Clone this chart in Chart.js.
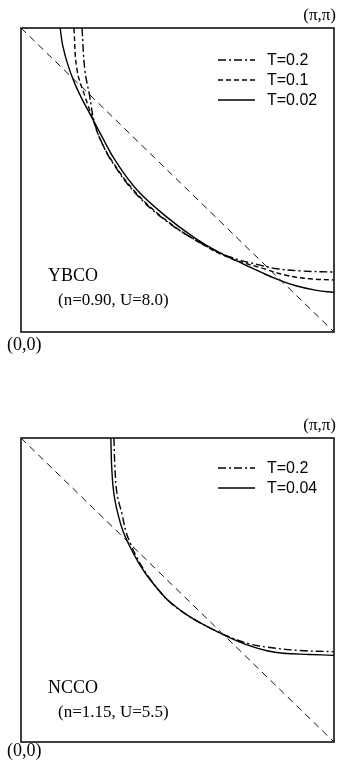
<!DOCTYPE html>
<html>
<head>
<meta charset="utf-8">
<script src="https://cdn.jsdelivr.net/npm/chart.js@4/dist/chart.umd.min.js"></script>
<style>
  body { margin: 0; background: #fff; }
  .panel { position: absolute; left: 0; width: 339px; }
</style>
</head>
<body>
<div class="panel" style="top:0;height:410px"><canvas id="ybco"></canvas></div>
<div class="panel" style="top:410px;height:357px"><canvas id="ncco"></canvas></div>
<script>
/*=================================
      data (k in units of pi)
=================================*/
// YBCO, n=0.90, U=8.0
const ybcoKx02 = [0.195, 0.204, 0.220, 0.232, 0.255, 0.295, 0.367, 0.463, 0.572, 0.668, 0.764, 0.818, 0.891, 1.0];
const ybcoKy02 = [1.0, 0.862, 0.773, 0.700, 0.630, 0.553, 0.455, 0.366, 0.294, 0.247, 0.220, 0.208, 0.201, 0.197];
const ybcoKx01 = [0.169, 0.179, 0.205, 0.228, 0.253, 0.295, 0.367, 0.463, 0.572, 0.668, 0.764, 0.850, 0.923, 1.0];
const ybcoKy01 = [1.0, 0.862, 0.773, 0.705, 0.634, 0.556, 0.458, 0.368, 0.293, 0.243, 0.212, 0.186, 0.175, 0.171];
const ybcoKx002 = [0.125, 0.133, 0.150, 0.170, 0.193, 0.222, 0.260, 0.300, 0.371, 0.466, 0.556, 0.636, 0.714, 0.770, 0.822, 0.878, 0.944, 1.0];
const ybcoKy002 = [1.0, 0.944, 0.878, 0.822, 0.770, 0.714, 0.640, 0.566, 0.467, 0.378, 0.309, 0.260, 0.222, 0.195, 0.172, 0.152, 0.137, 0.130];

// NCCO, n=1.15, U=5.5
const nccoKx02 = [0.297, 0.300, 0.307, 0.323, 0.335, 0.351, 0.372, 0.403, 0.454, 0.480, 0.530, 0.594, 0.661, 0.732, 0.786, 0.891, 1.0];
const nccoKy02 = [1.0, 0.904, 0.815, 0.749, 0.693, 0.650, 0.603, 0.550, 0.482, 0.456, 0.418, 0.380, 0.348, 0.322, 0.312, 0.301, 0.297];
const nccoKx004 = [0.287, 0.290, 0.297, 0.310, 0.326, 0.345, 0.370, 0.403, 0.454, 0.480, 0.530, 0.594, 0.661, 0.732, 0.786, 0.837, 0.923, 1.0];
const nccoKy004 = [1.0, 0.900, 0.815, 0.749, 0.693, 0.649, 0.600, 0.547, 0.483, 0.457, 0.418, 0.380, 0.346, 0.316, 0.300, 0.292, 0.288, 0.285];

// zone boundary (0,pi)-(pi,0)
const diagKx = [0, 1];
const diagKy = [1, 0];

const DASHDOT = [8, 3, 2, 3];
const DASHED = [5, 3];

function pts(xs, ys) {
  return xs.map((x, i) => ({ x: x, y: ys[i] }));
}

function curve(label, xs, ys, dash) {
  return {
    label: label,
    data: pts(xs, ys),
    borderColor: "#000",
    borderWidth: 1.4,
    borderDash: dash,
    pointRadius: 0,
    showLine: true,
    tension: 0.4,
  };
}

function diagonal() {
  return {
    label: "",
    data: pts(diagKx, diagKy),
    borderColor: "#111",
    borderWidth: 1,
    borderDash: [7, 5],
    pointRadius: 0,
    showLine: true,
  };
}

/*=================================
    frame, legend and labels
=================================*/
const frameAndText = {
  id: "frameAndText",
  afterDatasetsDraw(chart, args, opts) {
    const { ctx, chartArea: a } = chart;
    ctx.save();
    ctx.setLineDash([]);
    ctx.strokeStyle = "#111";
    ctx.lineWidth = 1.6;
    ctx.strokeRect(a.left, a.top, a.right - a.left, a.bottom - a.top);

    // legend
    let y = opts.legendTop;
    chart.data.datasets.forEach((ds) => {
      if (!ds.label) return;
      ctx.strokeStyle = "#000";
      ctx.lineWidth = 1.3;
      ctx.setLineDash(ds.borderDash || []);
      ctx.beginPath();
      ctx.moveTo(218, y);
      ctx.lineTo(255, y);
      ctx.stroke();
      ctx.setLineDash([]);
      ctx.fillStyle = "#000";
      ctx.font = '16px "Liberation Sans", Arial, sans-serif';
      ctx.textBaseline = "middle";
      ctx.textAlign = "left";
      ctx.fillText(ds.label, 267, y + 1);
      y += 20;
    });

    // text
    ctx.fillStyle = "#000";
    ctx.textBaseline = "alphabetic";
    ctx.font = '18px "Liberation Serif", "Times New Roman", serif';
    ctx.fillText(opts.name, 48, opts.nameY);
    ctx.font = '17px "Liberation Serif", "Times New Roman", serif';
    ctx.fillText(opts.params, 58, opts.nameY + 24);
    ctx.font = '18px "Liberation Serif", "Times New Roman", serif';
    ctx.fillText("(0,0)", 7, opts.originY);
    ctx.textAlign = "right";
    ctx.font = '17px "Liberation Serif", "Times New Roman", serif';
    ctx.fillText("(\u03c0,\u03c0)", 336, 19.5);
    ctx.restore();
  },
};

function makeChart(id, datasets, labels) {
  new Chart(id, {
    type: "scatter",
    data: { datasets: datasets },
    options: {
      responsive: true,
      maintainAspectRatio: false,
      animation: false,
      layout: { padding: { left: 21, right: 5, top: 28, bottom: labels.padBottom } },
      scales: {
        x: { type: "linear", min: 0, max: 1, display: false },
        y: { type: "linear", min: 0, max: 1, display: false },
      },
      plugins: {
        legend: { display: false },
        tooltip: { enabled: false },
        frameAndText: labels,
      },
    },
    plugins: [frameAndText],
  });
}

makeChart(
  "ybco",
  [
    diagonal(),
    curve("T=0.2", ybcoKx02, ybcoKy02, DASHDOT),
    curve("T=0.1", ybcoKx01, ybcoKy01, DASHED),
    curve("T=0.02", ybcoKx002, ybcoKy002, []),
  ],
  { name: "YBCO", params: "(n=0.90, U=8.0)", nameY: 281, originY: 350, legendTop: 60, padBottom: 78 }
);

makeChart(
  "ncco",
  [
    diagonal(),
    curve("T=0.2", nccoKx02, nccoKy02, DASHDOT),
    curve("T=0.04", nccoKx004, nccoKy004, []),
  ],
  { name: "NCCO", params: "(n=1.15, U=5.5)", nameY: 283, originY: 346, legendTop: 58, padBottom: 25 }
);
</script>
</body>
</html>
